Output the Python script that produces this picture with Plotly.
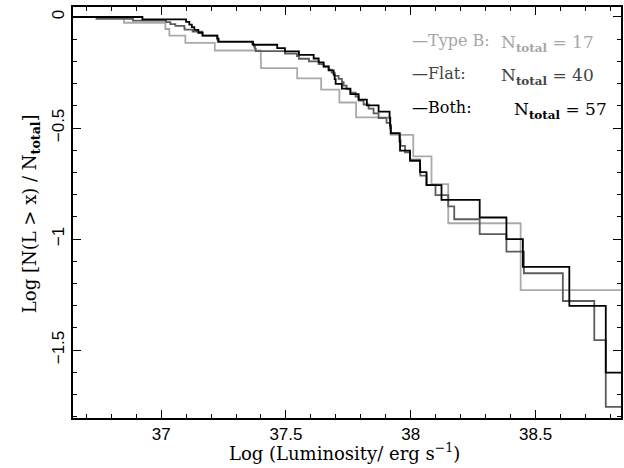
import plotly.graph_objects as go

# ---- data (step positions in log L, and log N(>L)/N levels) ----
typeb_lum = [36.851, 37.017, 37.033, 37.097, 37.215, 37.399, 37.400, 37.545, 37.641,
             37.714, 37.781, 37.919, 38.010, 38.083, 38.150, 38.440]
typeb_lvl = [-0.026, -0.054, -0.084, -0.117, -0.151, -0.189, -0.230, -0.276, -0.327,
             -0.385, -0.452, -0.531, -0.628, -0.753, -0.929, -1.230]

flat_lum = [36.925, 37.100, 37.113, 37.123, 37.133, 37.149, 37.166, 37.225, 37.230,
            37.368, 37.465, 37.496, 37.552, 37.611, 37.631, 37.651, 37.671, 37.691,
            37.695, 37.699, 37.724, 37.758, 37.791, 37.824, 37.871, 37.915, 37.917,
            37.920, 37.955, 37.957, 37.997, 38.037, 38.063, 38.123, 38.276, 38.383,
            38.449, 38.635, 38.781]
flat_lvl = [-0.011, -0.022, -0.034, -0.046, -0.058, -0.071, -0.084, -0.097, -0.111,
            -0.125, -0.140, -0.155, -0.171, -0.187, -0.204, -0.222, -0.240, -0.260,
            -0.280, -0.301, -0.323, -0.347, -0.372, -0.398, -0.426, -0.456, -0.488,
            -0.523, -0.561, -0.602, -0.648, -0.699, -0.757, -0.824, -0.903, -1.000,
            -1.125, -1.301, -1.602]

both_lum = [36.741, 36.887, 37.020, 37.037, 37.057, 37.093, 37.094, 37.126, 37.165,
            37.166, 37.225, 37.226, 37.227, 37.365, 37.372, 37.376, 37.379, 37.496,
            37.544, 37.552, 37.592, 37.631, 37.651, 37.671, 37.683, 37.695, 37.711,
            37.724, 37.731, 37.743, 37.758, 37.779, 37.791, 37.811, 37.831, 37.851,
            37.871, 37.903, 37.917, 37.920, 37.957, 37.959, 37.977, 37.997, 38.037,
            38.038, 38.063, 38.099, 38.150, 38.174, 38.276, 38.383, 38.453, 38.609,
            38.735, 38.781]
both_lvl = [-0.008, -0.016, -0.023, -0.032, -0.040, -0.048, -0.057, -0.066, -0.075,
            -0.084, -0.093, -0.103, -0.112, -0.122, -0.133, -0.143, -0.154, -0.165,
            -0.176, -0.188, -0.200, -0.212, -0.224, -0.237, -0.251, -0.265, -0.279,
            -0.293, -0.309, -0.325, -0.341, -0.358, -0.376, -0.394, -0.413, -0.434,
            -0.455, -0.477, -0.501, -0.525, -0.552, -0.580, -0.610, -0.642, -0.677,
            -0.714, -0.756, -0.802, -0.853, -0.911, -0.978, -1.057, -1.154, -1.279,
            -1.455, -1.756]

x_range = [36.647, 38.842]
y_range = [-1.806, 0.045]

SUB = "<sub><b>total</b></sub>"
NB = "\u00a0"
legend_rows = [
    ("\u2014Type B:", "N" + SUB + NB + "=" + NB + "17", "#a6a6a6"),
    ("\u2014Flat:", "N" + SUB + NB + "=" + NB + "40", "#444444"),
    ("\u2014Both:", "N" + SUB + NB + "=" + NB + "57", "#000000"),
]

# ---- figure ----
fig = go.Figure()
series = [
    (typeb_lum, typeb_lvl, "#aaaaaa", 1.8, "Type B"),
    (both_lum, both_lvl, "#5c5c5c", 1.8, "N=57"),
    (flat_lum, flat_lvl, "#000000", 1.8, "N=40"),
]
for lum, lvl, color, width, name in series:
    xs = [x_range[0] - 0.1] + lum + [x_range[1] + 0.1]
    ys = [0.0] + lvl + [lvl[-1]]
    fig.add_trace(go.Scatter(x=xs, y=ys, mode="lines", name=name, showlegend=False,
                             line=dict(shape="hv", color=color, width=width)))

axis_common = dict(
    showline=True, linecolor="black", linewidth=1.6, mirror="allticks",
    ticks="inside", ticklen=8, tickwidth=1.3, tickcolor="black",
    showgrid=False, zeroline=False,
    tickfont=dict(family="Liberation Sans, Arial, sans-serif", size=17, color="black"),
)
fig.update_xaxes(range=x_range, tick0=37, dtick=0.5,
                 minor=dict(ticks="inside", dtick=0.1, ticklen=4, tickwidth=1.3,
                            tickcolor="black", showgrid=False),
                 **axis_common)
fig.update_yaxes(range=y_range, tick0=0, dtick=0.5, tickangle=-90,
                 minor=dict(ticks="inside", dtick=0.1, ticklen=4, tickwidth=1.3,
                            tickcolor="black", showgrid=False),
                 **axis_common)

L, R, T, B = 73, 1, 7, 50
W, H = 624, 468
pw, ph = W - L - R, H - T - B


def px_x(p):
    return (p - L) / pw


def px_y(p):
    return (H - B - p) / ph


serif = "DejaVu Serif, Liberation Serif, serif"
ann = [
    dict(text="Log (Luminosity/ erg s<sup>\u22121</sup>)", x=px_x(345), y=px_y(452),
         xanchor="center", yanchor="middle", font=dict(family=serif, size=18, color="black")),
    dict(text="Log [N(L > x) / N<sub><b>total</b></sub>]", x=px_x(31), y=px_y(214),
         textangle=-90, xanchor="center", yanchor="middle",
         font=dict(family=serif, size=18, color="black")),
]
row_y = [40, 73, 107]
row_right = [598, 598, 611]
for (lt, rt, col), yy, xr in zip(legend_rows, row_y, row_right):
    ann.append(dict(text=lt, x=px_x(411), y=px_y(yy), xanchor="left", yanchor="middle",
                    font=dict(family=serif, size=16, color=col)))
    ann.append(dict(text=rt, x=px_x(xr), y=px_y(yy + 3), xanchor="right", yanchor="middle",
                    font=dict(family=serif, size=17, color=col)))
for a in ann:
    a.update(xref="paper", yref="paper", showarrow=False)

fig.update_layout(
    width=W, height=H, margin=dict(l=L, r=R, t=T, b=B),
    paper_bgcolor="white", plot_bgcolor="white",
    annotations=ann,
)

fig.write_html("out.html")
